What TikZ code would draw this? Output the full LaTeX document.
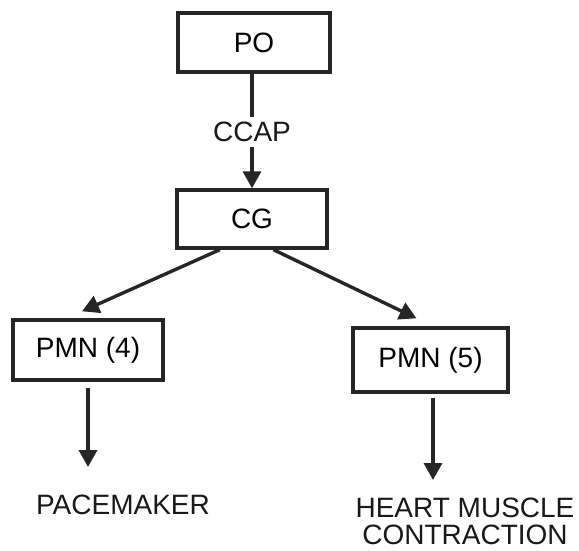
\documentclass[tikz,border=0pt]{standalone}
\usepackage{fontspec}
\setmainfont{Liberation Sans}
\usetikzlibrary{arrows.meta,calc}
\begin{document}
\begin{tikzpicture}[x=1pt,y=-1pt,
  box/.style={draw=black!85, line width=3.4pt, inner sep=0pt, font=\fontsize{28}{28}\selectfont},
  lbl/.style={inner sep=0pt, font=\fontsize{28}{27}\selectfont, align=center, text=black!90},
  conn/.style={draw=black!85, line width=3.4pt, -{Triangle[length=17pt,width=18pt]}},
  plain/.style={draw=black!85, line width=3.4pt}]
\useasboundingbox (0,0) rectangle (579,550);
\node[box, minimum width=152pt, minimum height=59pt] (po) at (254,42.5) {PO};
\node[box, minimum width=150pt, minimum height=58pt] (cg) at (252,219) {CG};
\node[box, minimum width=150pt, minimum height=60pt] (p4) at (88,350) {PMN (4)};
\node[box, minimum width=155pt, minimum height=64pt] (p5) at (430.5,360) {PMN (5)};
\node[lbl, inner sep=5pt] (ccap) at (252,132) {CCAP};
\node[lbl] (pace) at (123,505) {PACEMAKER};
\node[lbl] (heart) at (465,521) {HEART MUSCLE\\CONTRACTION};
\coordinate (t4) at ($(p4.north)+(-6,-7)$);
\coordinate (t5) at ($(p5.north)+(-14,-8)$);
\coordinate (s4) at ($(p4.south)+(0,6)$);
\coordinate (s5) at ($(p5.south)+(2.5,4)$);
\coordinate (e4) at (88,467);
\coordinate (e5) at (433,480);
\path[plain] (po.south -| ccap.north) -- (ccap.north);
\path[conn] (ccap.south) -- (cg.north -| ccap.south);
\path[conn] ($(cg.south west)!0.29!(cg.south east)$) -- (t4);
\path[conn] ($(cg.south west)!0.64!(cg.south east)$) -- (t5);
\path[conn] (s4) -- (e4);
\path[conn] (s5) -- (e5);
\end{tikzpicture}
\end{document}
